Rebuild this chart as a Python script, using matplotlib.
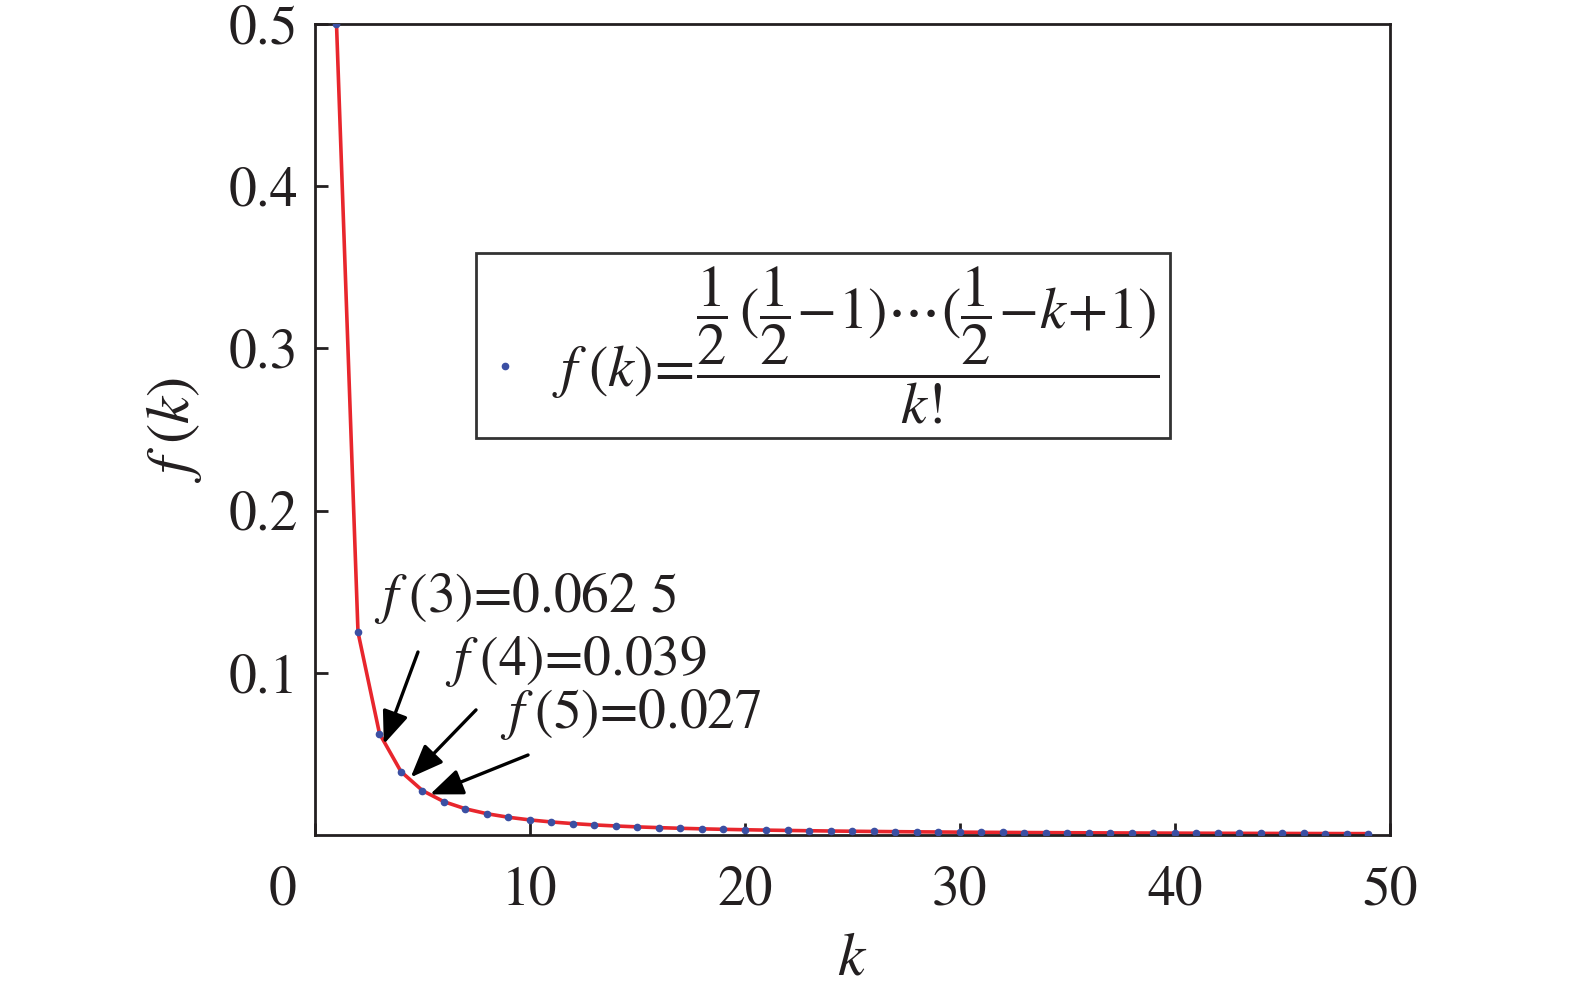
import matplotlib.pyplot as plt
import matplotlib.transforms as mtransforms

plt.rcParams['font.family'] = ['STIXGeneral', 'Liberation Serif']
plt.rcParams['mathtext.fontset'] = 'stix'

# data: f(k) for k = 1..49
k = list(range(1, 50))
fk = [0.5, 0.125, 0.0625, 0.0390625, 0.02734375, 0.0205078, 0.0161133,
      0.0130920, 0.0109100, 0.0092735, 0.0080089, 0.0070078, 0.0061992,
      0.0055350, 0.0049815, 0.0045145, 0.0041162, 0.0037732, 0.0034753,
      0.0032147, 0.0029851, 0.0027816, 0.0026002, 0.0024377, 0.0022914,
      0.0021592, 0.0020392, 0.0019300, 0.0018302, 0.0017387, 0.0016546,
      0.0015770, 0.0015053, 0.0014389, 0.0013772, 0.0013198, 0.0012663,
      0.0012163, 0.0011695, 0.0011256, 0.0010844, 0.0010457, 0.0010092,
      0.0009748, 0.0009423, 0.0009116, 0.0008825, 0.0008549, 0.0008288]

xticks = [0, 10, 20, 30, 40, 50]
yticks = [0.1, 0.2, 0.3, 0.4, 0.5]

# annotations: label, text position, arrow tail, arrow head
notes = [
    (r'$f\;$(3)=0.062 5', (2.75, 0.1375), (4.79, 0.1128), (3.2, 0.0560)),
    (r'$f\;$(4)=0.039', (6.05, 0.0986), (7.49, 0.0771), (4.45, 0.0355)),
    (r'$f\;$(5)=0.027', (8.6, 0.0660), (9.91, 0.0493), (5.35, 0.0250)),
]

txt = '#231f20'
fig = plt.figure(figsize=(15.75, 9.9), dpi=100)
ax = fig.add_axes([0.2, 0.1566, 0.6825, 0.8192])

label = (r'$f\;(k)\!=\!\dfrac{\dfrac{1}{2}\,(\dfrac{1}{2}\!-\!1)\cdots(\dfrac{1}{2}\!-\!k\!+\!1)}{k!}$')
ax.plot(k, fk, color='#e8262d', lw=2.6, zorder=2)
ax.plot(k, fk, 'o', color='#3b4fa3', ms=4.5, zorder=3, label=label)

for s, tpos, tail, head in notes:
    ax.text(tpos[0], tpos[1], s, fontsize=40, color=txt, ha='left', va='baseline')
    ax.annotate('', xy=head, xytext=tail,
                arrowprops=dict(arrowstyle='-|>,head_length=1.0,head_width=0.4',
                                mutation_scale=20, color='black', lw=2.4,
                                shrinkA=0, shrinkB=0))

ax.set_xlim(0, 50)
ax.set_ylim(0, 0.5)
ax.set_xticks(xticks)
ax.set_xticklabels([str(v) for v in xticks])
ax.set_yticks(yticks)
ax.set_yticklabels([str(v) for v in yticks])
ax.tick_params(direction='in', length=9, width=2, labelsize=40, colors=txt)
ax.tick_params(axis='x', pad=22)
ax.tick_params(axis='y', pad=12)
for sp in ax.spines.values():
    sp.set_linewidth(2)
    sp.set_color(txt)

# first x label sits left of the axis start
lab0 = ax.get_xticklabels()[0]
lab0.set_transform(lab0.get_transform() + mtransforms.ScaledTranslation(-0.32, 0, fig.dpi_scale_trans))

ax.set_xlabel(r'$k$', fontsize=44, color=txt, labelpad=12)
ax.set_ylabel(r'$f\;(k)$', fontsize=44, color=txt, labelpad=18)

leg = ax.legend(loc='center', bbox_to_anchor=(0.4726, 0.6036), fontsize=42,
                frameon=True, fancybox=False, handlelength=0.6, handletextpad=0.5,
                borderpad=0.2, borderaxespad=0, markerscale=1.0)
leg.get_frame().set_edgecolor('black')
leg.get_frame().set_linewidth(2)
for t in leg.get_texts():
    t.set_color(txt)

fig.savefig('out.png', dpi=100)
